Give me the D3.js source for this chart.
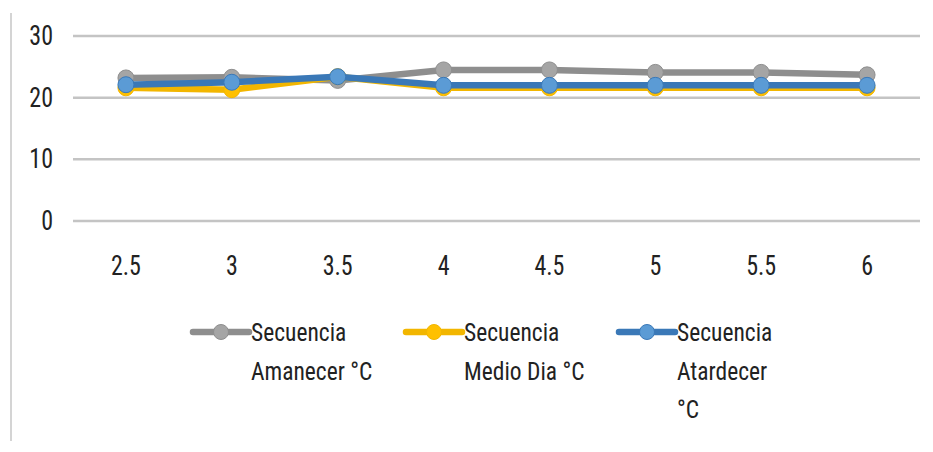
<!DOCTYPE html>
<html><head><meta charset="utf-8">
<script src="https://cdn.jsdelivr.net/npm/d3@7"></script>
<style>
html,body{margin:0;padding:0;background:#fff;}
svg text{font-family:"Liberation Sans Narrow","Arial Narrow","Roboto Condensed","Liberation Sans",sans-serif;fill:#222;}
</style></head>
<body><svg id="c" width="933" height="452"></svg>
<script>
const categories = ["2.5","3","3.5","4","4.5","5","5.5","6"];
const amanecer = [23.2, 23.3, 22.8, 24.5, 24.5, 24.1, 24.1, 23.7];
const medioDia = [21.6, 21.3, 23.4, 21.6, 21.6, 21.6, 21.6, 21.6];
const atardecer = [22.1, 22.5, 23.4, 22.0, 22.0, 22.0, 22.0, 22.0];
const yTicks = [0, 10, 20, 30];
const seriesNames = [["Secuencia","Amanecer °C"],["Secuencia","Medio Dia °C"],["Secuencia","Atardecer","°C"]];

const series = [
  {values: amanecer, line:"#8e8e8e", fill:"#a5a5a5", name: seriesNames[0]},
  {values: medioDia, line:"#f2b600", fill:"#ffc000", name: seriesNames[1]},
  {values: atardecer, line:"#3a78b7", fill:"#5b9bd5", name: seriesNames[2]}
];

const svg = d3.select("#c");
const x = d3.scaleBand().domain(categories).range([73, 920]);
const y = d3.scaleLinear().domain([0, 30]).range([221, 36]);
const SY = 1.12;

// left border
svg.append("line").attr("x1",11).attr("x2",11).attr("y1",13).attr("y2",441)
  .attr("stroke","#d4d4d4").attr("stroke-width",2);

// gridlines
svg.append("g").selectAll("line").data(yTicks).join("line")
  .attr("x1",73).attr("x2",920).attr("y1",d=>y(d)).attr("y2",d=>y(d))
  .attr("stroke","#c4c4c4").attr("stroke-width",2.5);

// y labels
svg.append("g").selectAll("text").data(yTicks).join("text")
  .attr("transform",d=>`translate(53,${y(d)+9}) scale(1,${SY})`).attr("text-anchor","end")
  .attr("font-size",24).text(d=>d);

// x labels
svg.append("g").selectAll("text").data(categories).join("text")
  .attr("transform",d=>`translate(${x(d)+x.bandwidth()/2},275) scale(1,${SY})`).attr("text-anchor","middle")
  .attr("font-size",24).text(d=>d);

const line = d3.line().x((d,i)=>x(categories[i])+x.bandwidth()/2).y(d=>y(d));

series.forEach(s=>{
  const g = svg.append("g");
  g.append("path").attr("d", line(s.values)).attr("fill","none")
    .attr("stroke", s.line).attr("stroke-width",6.5).attr("stroke-linejoin","round");
  g.selectAll("circle").data(s.values).join("circle")
    .attr("cx",(d,i)=>x(categories[i])+x.bandwidth()/2).attr("cy",d=>y(d))
    .attr("r",8).attr("fill",s.fill).attr("stroke",s.line).attr("stroke-width",1);
});

// legend
const legX = [193, 406, 619];
const legY = 332;
series.forEach((s,k)=>{
  const g = svg.append("g");
  g.append("line").attr("x1",legX[k]).attr("x2",legX[k]+56).attr("y1",legY).attr("y2",legY)
    .attr("stroke",s.line).attr("stroke-width",6.5).attr("stroke-linecap","round");
  g.append("circle").attr("cx",legX[k]+28).attr("cy",legY).attr("r",7.5)
    .attr("fill",s.fill).attr("stroke",s.line).attr("stroke-width",1);
  s.name.forEach((t,j)=>{
    g.append("text").attr("transform",`translate(${legX[k]+58},${341+j*38.5}) scale(1,${SY})`)
      .attr("font-size",23.5).text(t);
  });
});
</script></body></html>
